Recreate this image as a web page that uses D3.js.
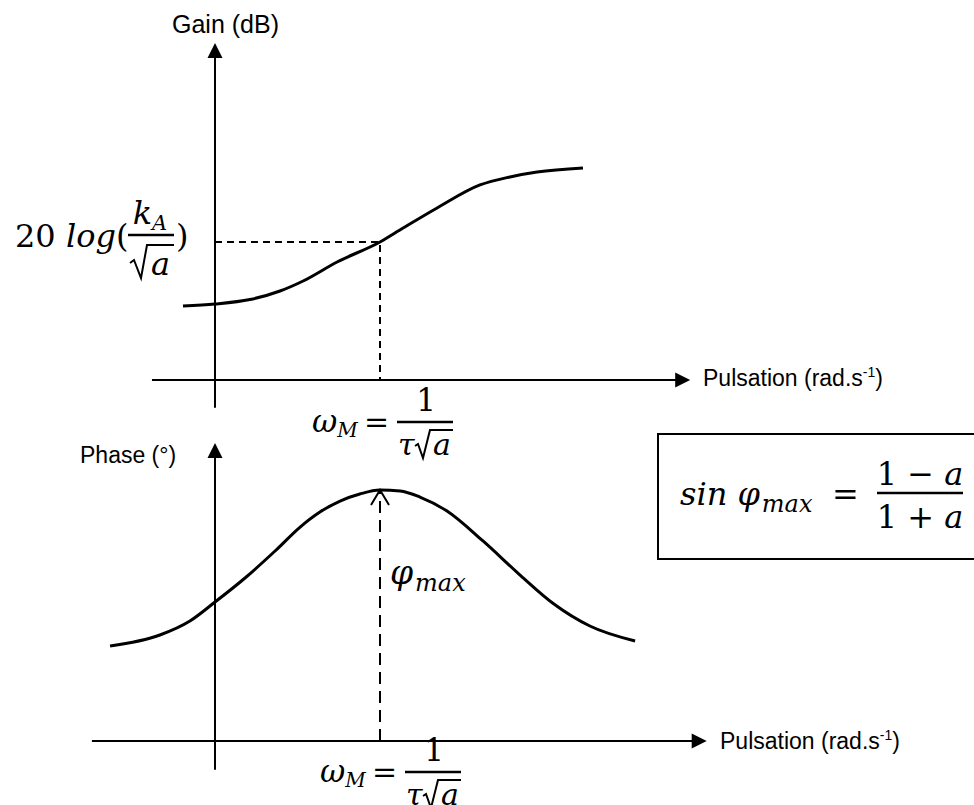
<!DOCTYPE html>
<html>
<head>
<meta charset="utf-8">
<script src="https://cdn.jsdelivr.net/npm/d3@7"></script>
<style>
  body { margin: 0; background: #fff; }
  .lbl { font-family: "Liberation Sans", Arial, sans-serif; fill: #000; }
  .m { font-family: "DejaVu Serif", serif; fill: #000; }
  .it { font-style: italic; }
</style>
</head>
<body>
<svg id="chart" width="974" height="805"></svg>
<script>
// pulsation in arbitrary units, omega_M = 5
var omegaM = 5

// gain curve (dB)
var gainW  = [-0.97, 0, 1.06, 1.97, 2.67, 3.70, 5, 5.70, 6.73, 8.03, 8.94, 9.76, 11.15]
var gainDb = [8.78, 9.02, 9.55, 10.56, 11.75, 14.01, 16.38, 18.04, 20.42, 23.15, 24.1, 24.68, 25.16]
var gainAtM = 16.38

// phase curve (degrees)
var phaseW   = [-3.18, -1.67, -0.76, 0, 0.91, 1.82, 2.58, 3.18, 3.79, 4.39, 5, 5.61, 6.21, 7.03, 8.12, 9.21, 10.27, 11.36, 12.73]
var phaseDeg = [19.13, 21.34, 24.16, 27.98, 32.82, 38.25, 43.08, 46.1, 48.32, 49.73, 50.53, 50.33, 49.12, 46.31, 40.27, 33.62, 27.58, 23.15, 20.13]
var phaseMax = 50.53

var gainLabel = "Gain (dB)"
var phaseLabel = "Phase (°)"
var xLabel = "Pulsation (rad.s"

var svg = d3.select("#chart")

var xTop = d3.scaleLinear().domain([0, omegaM]).range([215, 380])
var yTop = d3.scaleLinear().domain([0, 40]).range([380, 43])
var xBot = d3.scaleLinear().domain([0, omegaM]).range([215, 380])
var yBot = d3.scaleLinear().domain([0, 60]).range([741, 443])

function arrowHead(g, x, y, dir) {
  var p
  if (dir == "up") p = [[x, y], [x - 7.5, y + 15], [x + 7.5, y + 15]]
  else p = [[x, y], [x - 15, y - 7.5], [x - 15, y + 7.5]]
  g.append("path")
    .attr("d", "M" + p.join("L") + "Z")
    .attr("fill", "#000")
}

function drawAxes(g, x, y, xmin, xmax, ymin, ymax) {
  g.append("line")
    .attr("x1", x(xmin)).attr("x2", x(xmax) - 10)
    .attr("y1", y(0)).attr("y2", y(0))
    .attr("stroke", "#000").attr("stroke-width", 2)
  arrowHead(g, x(xmax), y(0), "right")
  g.append("line")
    .attr("x1", x(0)).attr("x2", x(0))
    .attr("y1", y(ymin)).attr("y2", y(ymax) + 10)
    .attr("stroke", "#000").attr("stroke-width", 2)
  arrowHead(g, x(0), y(ymax), "up")
}

function xAxisLabel(g, x, y) {
  var t = g.append("text").attr("class", "lbl")
    .attr("x", x).attr("y", y)
    .style("font-size", "23px")
  t.append("tspan").text(xLabel)
  t.append("tspan").attr("dy", -9).style("font-size", "14px").text("-1")
  t.append("tspan").attr("dy", 9).text(")")
}

var line = d3.line().curve(d3.curveMonotoneX)

/* Gain plot */
var gTop = svg.append("g")
drawAxes(gTop, xTop, yTop, -1.91, 14.4, -3.3, 40)

gTop.append("path")
  .datum(d3.zip(gainW, gainDb))
  .attr("d", line.x(function(d) { return xTop(d[0]) }).y(function(d) { return yTop(d[1]) }))
  .attr("fill", "none").attr("stroke", "#000").attr("stroke-width", 3)

gTop.append("path")
  .attr("d", "M" + xTop(0) + "," + yTop(gainAtM) + "H" + xTop(omegaM) + "V" + yTop(0))
  .attr("fill", "none").attr("stroke", "#000").attr("stroke-width", 2)
  .attr("stroke-dasharray", "7,5")

gTop.append("text").attr("class", "lbl")
  .attr("x", 172).attr("y", 33)
  .style("font-size", "25px")
  .text(gainLabel)

xAxisLabel(gTop, 703, 386)

// 20 log(kA / sqrt a)
var lab = gTop.append("text").attr("class", "m")
  .attr("x", 15).attr("y", 247).style("font-size", "32px")
lab.append("tspan").text("20 ")
lab.append("tspan").attr("class", "it").text("log")
lab.append("tspan").text("(")

var num = gTop.append("text").attr("class", "m it")
  .attr("x", 150).attr("y", 224).attr("text-anchor", "middle")
  .style("font-size", "32px")
num.append("tspan").text("k")
num.append("tspan").attr("dy", 6).style("font-size", "21px").text("A")

gTop.append("line")
  .attr("x1", 128).attr("x2", 174).attr("y1", 235).attr("y2", 235)
  .attr("stroke", "#000").attr("stroke-width", 2.5)
gTop.append("path")
  .attr("d", "M130,263L134,260L141,278L147,245L174,245")
  .attr("fill", "none").attr("stroke", "#000").attr("stroke-width", 2)
gTop.append("text").attr("class", "m it")
  .attr("x", 151).attr("y", 275).style("font-size", "32px").text("a")
gTop.append("text").attr("class", "m")
  .attr("x", 176).attr("y", 247).style("font-size", "32px").text(")")

// omega_M = 1 / (tau sqrt a)
function omegaFormula(g, x0, y0) {
  var w = g.append("text").attr("class", "m it")
    .attr("x", x0 - 85).attr("y", y0 + 10).style("font-size", "31px")
  w.append("tspan").text("ω")
  w.append("tspan").attr("dy", 5).style("font-size", "20px").text("M")
  g.append("text").attr("class", "m")
    .attr("x", x0 - 33).attr("y", y0 + 10).style("font-size", "30px").text("=")
  g.append("line")
    .attr("x1", x0).attr("x2", x0 + 56).attr("y1", y0).attr("y2", y0)
    .attr("stroke", "#000").attr("stroke-width", 2.5)
  g.append("text").attr("class", "m")
    .attr("x", x0 + 29).attr("y", y0 - 11).attr("text-anchor", "middle")
    .style("font-size", "31px").text("1")
  g.append("text").attr("class", "m it")
    .attr("x", x0 + 1).attr("y", y0 + 33).style("font-size", "30px").text("τ")
  g.append("path")
    .attr("d", "M" + (x0 + 18) + "," + (y0 + 24) + "l3,-2l5,14l7,-28H" + (x0 + 56))
    .attr("fill", "none").attr("stroke", "#000").attr("stroke-width", 2)
  g.append("text").attr("class", "m it")
    .attr("x", x0 + 36).attr("y", y0 + 33).style("font-size", "30px").text("a")
}

omegaFormula(gTop, 397, 422)

/* Phase plot */
var gBot = svg.append("g")
drawAxes(gBot, xBot, yBot, -3.73, 14.9, -5.8, 60)

gBot.append("path")
  .datum(d3.zip(phaseW, phaseDeg))
  .attr("d", line.x(function(d) { return xBot(d[0]) }).y(function(d) { return yBot(d[1]) }))
  .attr("fill", "none").attr("stroke", "#000").attr("stroke-width", 3)

gBot.append("line")
  .attr("x1", xBot(omegaM)).attr("x2", xBot(omegaM))
  .attr("y1", yBot(0)).attr("y2", yBot(phaseMax) + 2)
  .attr("stroke", "#000").attr("stroke-width", 2)
  .attr("stroke-dasharray", "12,7")
gBot.append("path")
  .attr("d", "M" + (xBot(omegaM) - 9) + "," + (yBot(phaseMax) + 15) + "l9,-15l9,15")
  .attr("fill", "none").attr("stroke", "#000").attr("stroke-width", 2)

gBot.append("text").attr("class", "lbl")
  .attr("x", 80).attr("y", 463)
  .style("font-size", "23px")
  .text(phaseLabel)

xAxisLabel(gBot, 720, 749)

var phi = gBot.append("text").attr("class", "m it")
  .attr("x", 390).attr("y", 584).style("font-size", "33px")
phi.append("tspan").text("φ")
phi.append("tspan").attr("dy", 7).attr("dx", 2).style("font-size", "24px").text("max")

omegaFormula(gBot, 405, 772)

/* sin phi_max box */
var box = svg.append("g")
box.append("rect")
  .attr("x", 658).attr("y", 434).attr("width", 340).attr("height", 125)
  .attr("fill", "none").attr("stroke", "#000").attr("stroke-width", 2)

var s = box.append("text").attr("class", "m it")
  .attr("x", 680).attr("y", 505).style("font-size", "32px")
s.append("tspan").text("sin φ")
s.append("tspan").attr("dy", 7).attr("dx", 2).style("font-size", "24px").text("max")
box.append("text").attr("class", "m")
  .attr("x", 832).attr("y", 505).style("font-size", "32px").text("=")
box.append("line")
  .attr("x1", 877).attr("x2", 963).attr("y1", 493).attr("y2", 493)
  .attr("stroke", "#000").attr("stroke-width", 2.5)

var n1 = box.append("text").attr("class", "m")
  .attr("x", 920).attr("y", 485).attr("text-anchor", "middle").style("font-size", "32px")
n1.append("tspan").text("1 − ")
n1.append("tspan").attr("class", "it").text("a")
var d1 = box.append("text").attr("class", "m")
  .attr("x", 920).attr("y", 528).attr("text-anchor", "middle").style("font-size", "32px")
d1.append("tspan").text("1 + ")
d1.append("tspan").attr("class", "it").text("a")
</script>
</body>
</html>
